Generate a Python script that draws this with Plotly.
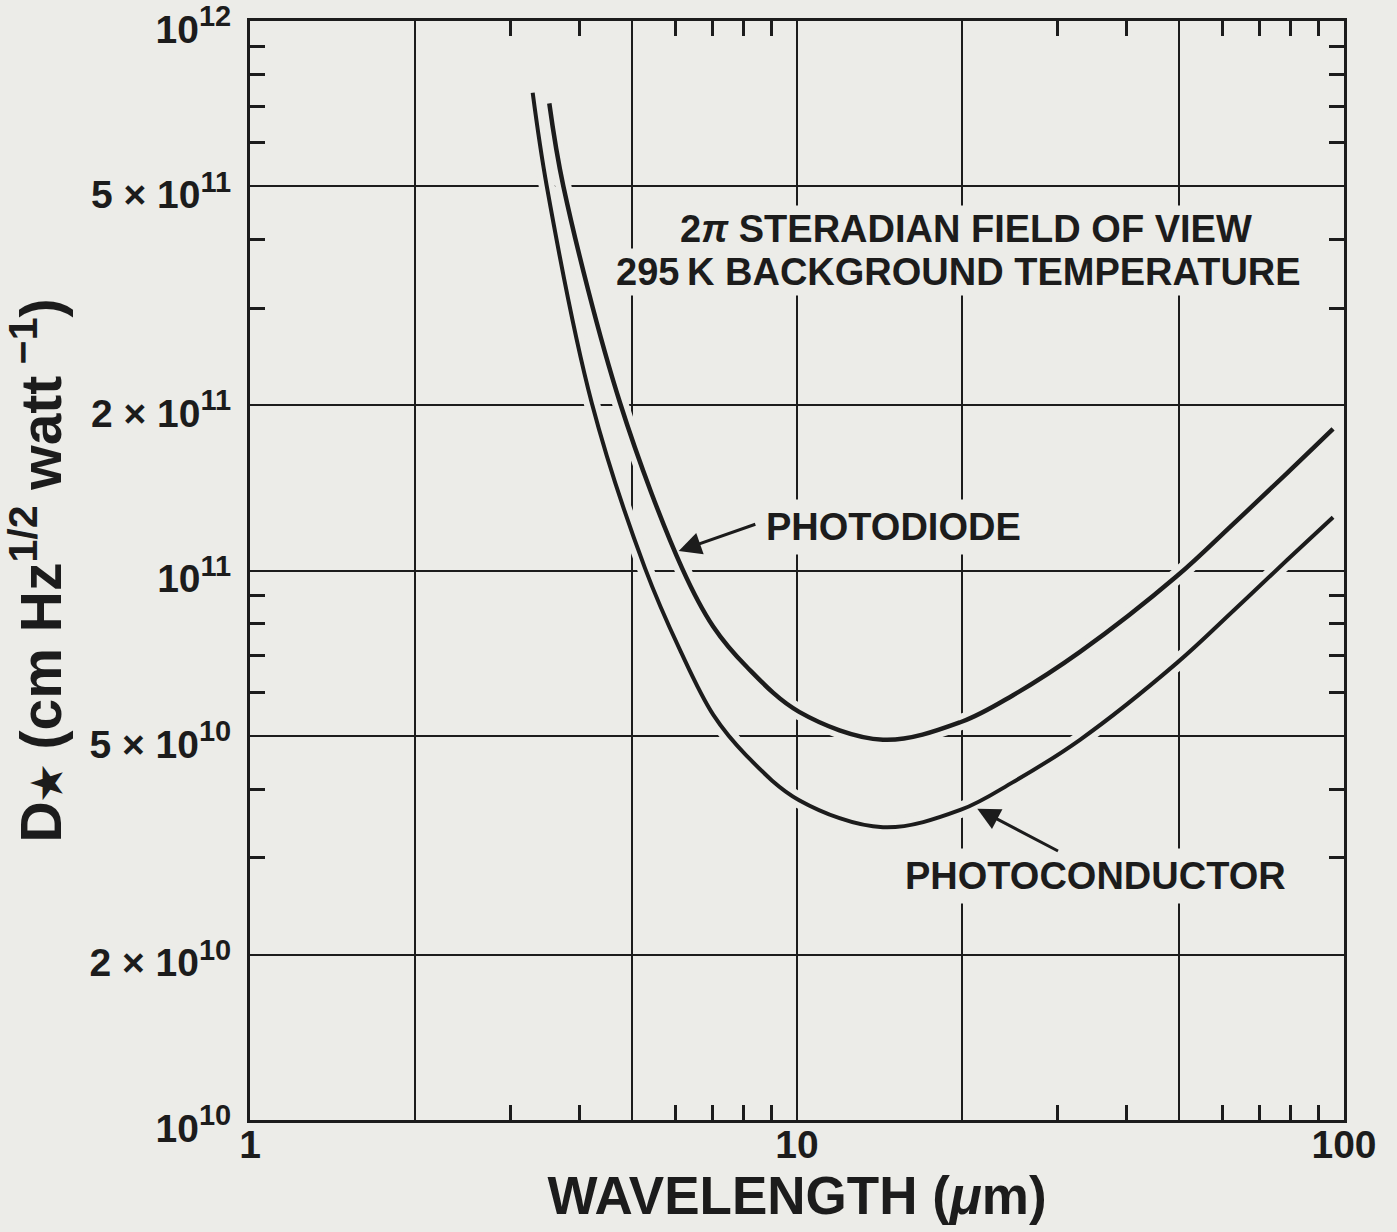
import numpy as np
import plotly.graph_objects as go

# ---- data ----
wl_photodiode = [3.525, 3.739, 4.747, 6.164, 7.031, 8.091, 10.09, 14.36, 19.94, 24.83, 32.91, 49.5, 62.7, 78.7, 95.5]
d_photodiode = [7.08e11, 5.01e11, 2.02e11, 1.01e11, 7.90e10, 6.68e10, 5.53e10, 4.92e10, 5.30e10,
                5.93e10, 7.11e10, 9.77e10, 1.215e11, 1.504e11, 1.81e11]

wl_photoconductor = [3.287, 3.487, 4.214, 5.273, 6.110, 7.031, 8.091, 10.09, 14.36, 19.94, 24.83, 32.91,
                     49.5, 62.7, 78.7, 95.5]
d_photoconductor = [7.40e11, 5.01e11, 2.02e11, 1.01e11, 7.17e10, 5.46e10, 4.60e10, 3.82e10, 3.41e10,
                    3.67e10, 4.12e10, 4.92e10, 6.79e10, 8.44e10, 1.045e11, 1.25e11]

x_tickvals = [1, 2, 5, 10, 20, 50, 100]
x_ticktext = ["1", "", "", "10", "", "", "100"]
x_minor = [3, 4, 6, 7, 8, 9, 30, 40, 60, 70, 80, 90]

SUP = "<sup><span style='font-size:29px'>{}</span></sup>"
y_tickvals = [1e10, 2e10, 5e10, 1e11, 2e11, 5e11, 1e12]
y_ticktext = ["10" + SUP.format("10"), "2 × 10" + SUP.format("10"), "5 × 10" + SUP.format("10"),
              "10" + SUP.format("11"), "2 × 10" + SUP.format("11"), "5 × 10" + SUP.format("11"),
              "10" + SUP.format("12")]
y_minor = [3e10, 4e10, 6e10, 7e10, 8e10, 9e10, 3e11, 4e11, 6e11, 7e11, 8e11, 9e11]

# annotation anchors (data units)
note_line1 = "2<i>π</i> STERADIAN FIELD OF VIEW"
note_line2 = "295\u2009K BACKGROUND TEMPERATURE"
note_pos1 = (20.37, 4.18e11)
note_pos2 = (19.7, 3.49e11)
pd_label_pos = (15.0, 1.2e11)
pd_arrow_tip = (6.03, 1.082e11)
pc_label_pos = (35.2, 2.78e10)
pc_arrow_tip = (21.2, 3.70e10)

BG = "#ECECE8"
INK = "#1c1c1c"
FONT = "Liberation Sans, Arial, Helvetica, sans-serif"

fig = go.Figure()

# background-coloured halos that break grid lines where curves cross them
for xs, ys in [(wl_photodiode, d_photodiode), (wl_photoconductor, d_photoconductor)]:
    fig.add_trace(go.Scatter(x=xs, y=ys, mode="lines",
                             line=dict(color=BG, width=16, shape="spline", smoothing=1.0),
                             hoverinfo="skip", showlegend=False))

fig.add_trace(go.Scatter(x=wl_photodiode, y=d_photodiode, mode="lines", name="PHOTODIODE",
                         line=dict(color=INK, width=4.5, shape="spline", smoothing=1.0),
                         showlegend=False))
fig.add_trace(go.Scatter(x=wl_photoconductor, y=d_photoconductor, mode="lines", name="PHOTOCONDUCTOR",
                         line=dict(color=INK, width=4, shape="spline", smoothing=1.0),
                         showlegend=False))

axis_common = dict(
    type="log", automargin=False,
    showline=True, linecolor=INK, linewidth=3, mirror="ticks",
    showgrid=True, gridcolor=INK, gridwidth=2,
    ticks="", ticklen=0, zeroline=False, ticklabeloverflow="allow",
    tickfont=dict(family=FONT, size=39, color=INK, weight="bold"),
)

fig.update_xaxes(
    **axis_common,
    range=[0, 2],
    tickmode="array", tickvals=x_tickvals, ticktext=x_ticktext,
    minor=dict(tickmode="array", tickvals=x_minor, ticks="inside", ticklen=15,
               tickwidth=3, tickcolor=INK, showgrid=False),
    ticklabelstandoff=-12,
    title=dict(text="WAVELENGTH (<i>μ</i>m)", standoff=12,
               font=dict(family=FONT, size=53, color=INK, weight="bold")),
)
fig.update_yaxes(
    **axis_common,
    range=[10, 12],
    tickmode="array", tickvals=y_tickvals, ticktext=y_ticktext,
    minor=dict(tickmode="array", tickvals=y_minor, ticks="inside", ticklen=15,
               tickwidth=3, tickcolor=INK, showgrid=False),
    ticklabelstandoff=8, ticklabelshift=8,
    title=dict(text="\u00a0\u00a0D<span style='font-size:40px'>★</span> (cm Hz<sup><span style='font-size:41px'>1/2</span></sup>"
                    " watt<sup><span style='font-size:41px'> −1</span></sup>)",
               standoff=22, font=dict(family=FONT, size=57, color=INK, weight="bold")),
)

ann_font = dict(family=FONT, size=38, color=INK, weight="bold")
for txt, pos in [(note_line1, note_pos1), (note_line2, note_pos2)]:
    fig.add_annotation(x=np.log10(pos[0]), y=np.log10(pos[1]), text=txt,
                       showarrow=False, font=ann_font, bgcolor=BG, borderpad=2)
fig.add_annotation(x=np.log10(pd_label_pos[0]), y=np.log10(pd_label_pos[1]), text="PHOTODIODE",
                   showarrow=False, font=ann_font, bgcolor=BG, borderpad=6)
fig.add_annotation(x=np.log10(pc_label_pos[0]), y=np.log10(pc_label_pos[1]), text="PHOTOCONDUCTOR",
                   showarrow=False, font=ann_font, bgcolor=BG, borderpad=6)
fig.add_annotation(x=np.log10(pd_arrow_tip[0]), y=np.log10(pd_arrow_tip[1]), text="",
                   showarrow=True, ax=80, ay=-28, arrowhead=2, arrowsize=1.5, arrowwidth=3,
                   arrowcolor=INK, standoff=2)
fig.add_annotation(x=np.log10(pc_arrow_tip[0]), y=np.log10(pc_arrow_tip[1]), text="",
                   showarrow=True, ax=84, ay=44, arrowhead=2, arrowsize=1.5, arrowwidth=3,
                   arrowcolor=INK, standoff=2)

fig.update_layout(
    width=1397, height=1232,
    margin=dict(l=250, r=53, t=21, b=112, autoexpand=False),
    paper_bgcolor=BG, plot_bgcolor=BG,
    font=dict(family=FONT, color=INK),
)

fig.write_html("out.html")
